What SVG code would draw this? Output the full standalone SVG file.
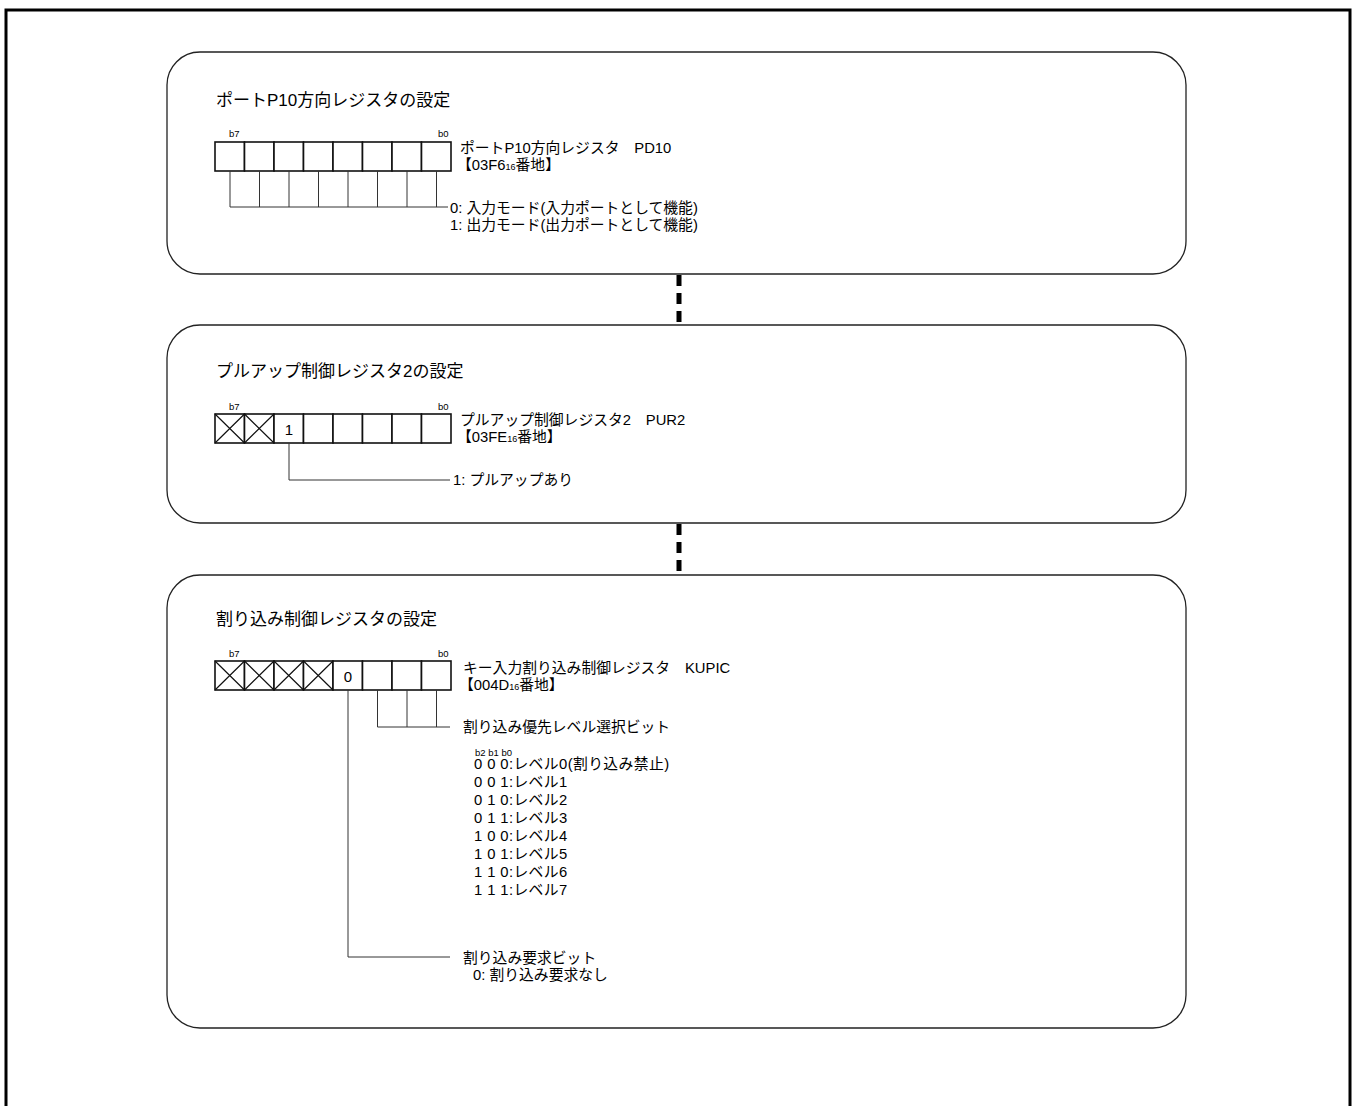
<svg xmlns="http://www.w3.org/2000/svg" width="1355" height="1106" viewBox="0 0 1355 1106">
<style>
text{font-family:"Liberation Sans","Noto Sans CJK JP",sans-serif;fill:#000}
.t{font-size:17px}
.r{font-size:14.8px}
.l{font-size:14.8px;letter-spacing:0.4px}
.s{font-size:9.5px}
.sub{font-size:9px}
.box{fill:#fff;stroke:#222;stroke-width:1.3}
.cell{fill:#fff;stroke:#111;stroke-width:1.6}
.x{stroke:#111;stroke-width:1.2;fill:none}
.ld{stroke:#333;stroke-width:1;fill:none}
.dash{stroke:#000;stroke-width:5;stroke-dasharray:11,7;fill:none}
</style>
<rect x="0" y="0" width="1355" height="1106" fill="#fff"/>
<path d="M6,1110 V10 H1350 V1110" fill="none" stroke="#000" stroke-width="3"/>
<g id="connectors">
<line class="dash" x1="679" y1="275" x2="679" y2="325"/>
<line class="dash" x1="679" y1="524" x2="679" y2="575"/>
</g>
<g id="box1">
<rect class="box" x="167" y="52" width="1019" height="222" rx="33"/>
<text class="t" x="216" y="106">ポートP10方向レジスタの設定</text>
<text class="s" x="229" y="137">b7</text>
<text class="s" x="438" y="137">b0</text>
<g>
<rect class="cell" x="215" y="142" width="29.5" height="29"/>
<rect class="cell" x="244.5" y="142" width="29.5" height="29"/>
<rect class="cell" x="274" y="142" width="29.5" height="29"/>
<rect class="cell" x="303.5" y="142" width="29.5" height="29"/>
<rect class="cell" x="333" y="142" width="29.5" height="29"/>
<rect class="cell" x="362.5" y="142" width="29.5" height="29"/>
<rect class="cell" x="392" y="142" width="29.5" height="29"/>
<rect class="cell" x="421.5" y="142" width="29.5" height="29"/>
</g>
<path class="ld" d="M230,171 V207 M259.5,171 V207 M289,171 V207 M318.5,171 V207 M348,171 V207 M377.5,171 V207 M407,171 V207 M436.5,171 V207 M230,207 H448"/>
<text class="r" x="460" y="153">ポートP10方向レジスタ　PD10</text>
<text class="r" x="457" y="170">【03F6<tspan class="sub">16</tspan>番地】</text>
<text class="r" x="450" y="213">0: 入力モード(入力ポートとして機能)</text>
<text class="r" x="450" y="230">1: 出力モード(出力ポートとして機能)</text>
</g>
<g id="box2">
<rect class="box" x="167" y="325" width="1019" height="198" rx="33"/>
<text class="t" x="216" y="377">プルアップ制御レジスタ2の設定</text>
<text class="s" x="229" y="410">b7</text>
<text class="s" x="438" y="410">b0</text>
<g>
<rect class="cell" x="215" y="414" width="29.5" height="29"/>
<rect class="cell" x="244.5" y="414" width="29.5" height="29"/>
<rect class="cell" x="274" y="414" width="29.5" height="29"/>
<rect class="cell" x="303.5" y="414" width="29.5" height="29"/>
<rect class="cell" x="333" y="414" width="29.5" height="29"/>
<rect class="cell" x="362.5" y="414" width="29.5" height="29"/>
<rect class="cell" x="392" y="414" width="29.5" height="29"/>
<rect class="cell" x="421.5" y="414" width="29.5" height="29"/>
</g>
<path class="x" d="M215,414 L244.5,443 M244.5,414 L215,443 M244.5,414 L274,443 M274,414 L244.5,443"/>
<text x="289" y="435" text-anchor="middle" font-size="15">1</text>
<path class="ld" d="M289,443 V480 H450"/>
<text class="r" x="460" y="425">プルアップ制御レジスタ2　PUR2</text>
<text class="r" x="457" y="442">【03FE<tspan class="sub">16</tspan>番地】</text>
<text class="r" x="453" y="485">1: プルアップあり</text>
</g>
<g id="box3">
<rect class="box" x="167" y="575" width="1019" height="453" rx="33"/>
<text class="t" x="216" y="625">割り込み制御レジスタの設定</text>
<text class="s" x="229" y="657">b7</text>
<text class="s" x="438" y="657">b0</text>
<g>
<rect class="cell" x="215" y="661" width="29.5" height="29"/>
<rect class="cell" x="244.5" y="661" width="29.5" height="29"/>
<rect class="cell" x="274" y="661" width="29.5" height="29"/>
<rect class="cell" x="303.5" y="661" width="29.5" height="29"/>
<rect class="cell" x="333" y="661" width="29.5" height="29"/>
<rect class="cell" x="362.5" y="661" width="29.5" height="29"/>
<rect class="cell" x="392" y="661" width="29.5" height="29"/>
<rect class="cell" x="421.5" y="661" width="29.5" height="29"/>
</g>
<path class="x" d="M215,661 L244.5,690 M244.5,661 L215,690 M244.5,661 L274,690 M274,661 L244.5,690 M274,661 L303.5,690 M303.5,661 L274,690 M303.5,661 L333,690 M333,661 L303.5,690"/>
<text x="348" y="682" text-anchor="middle" font-size="15">0</text>
<path class="ld" d="M377.5,690 V727 M407,690 V727 M436.5,690 V727 M377.5,727 H450"/>
<path class="ld" d="M348,690 V957 H450"/>
<text class="r" x="463" y="673">キー入力割り込み制御レジスタ　KUPIC</text>
<text class="r" x="459" y="690">【004D<tspan class="sub">16</tspan>番地】</text>
<text class="r" x="463" y="732">割り込み優先レベル選択ビット</text>
<text class="s" x="475" y="756">b2 b1 b0</text>
<text class="l" x="474" y="769">0 0 0:レベル0(割り込み禁止)</text>
<text class="l" x="474" y="787">0 0 1:レベル1</text>
<text class="l" x="474" y="805">0 1 0:レベル2</text>
<text class="l" x="474" y="823">0 1 1:レベル3</text>
<text class="l" x="474" y="841">1 0 0:レベル4</text>
<text class="l" x="474" y="859">1 0 1:レベル5</text>
<text class="l" x="474" y="877">1 1 0:レベル6</text>
<text class="l" x="474" y="895">1 1 1:レベル7</text>
<text class="r" x="463" y="963">割り込み要求ビット</text>
<text class="r" x="473" y="980">0: 割り込み要求なし</text>
</g>
</svg>
